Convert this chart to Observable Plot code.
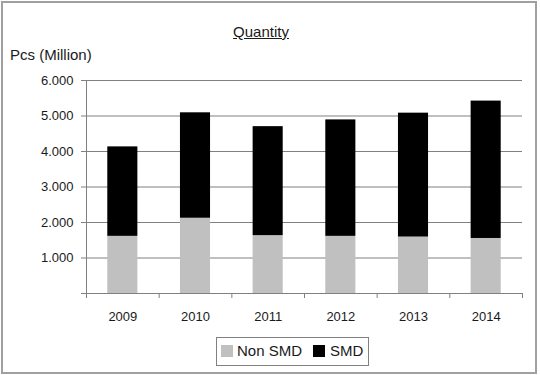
<!DOCTYPE html>
<html><head><meta charset="utf-8">
<script src="https://cdn.jsdelivr.net/npm/d3@7"></script>
<script src="https://cdn.jsdelivr.net/npm/@observablehq/plot@0.6"></script>
<style>
body{margin:0;width:540px;height:375px;position:relative;overflow:hidden;background:#fff;font-family:"Liberation Sans",Arial,sans-serif;color:#1a1a1a}
#frame{position:absolute;left:1px;top:1px;width:532px;height:369px;border:2px solid #a0a0a0}
#chart{position:absolute;left:0;top:0}
.t{position:absolute;font-size:15px;line-height:15px;white-space:nowrap}
#title{left:0;width:522px;text-align:center;top:24px;text-decoration:underline}
#ylab{left:10px;top:47px}
#legend{position:absolute;left:216px;top:337px;width:151px;height:27px;border:1px solid #808080}
.sw{position:absolute;width:12px;height:12px}
</style></head>
<body>
<div id="frame"></div>
<div id="chart"></div>
<div class="t" id="title">Quantity</div>
<div class="t" id="ylab">Pcs (Million)</div>
<div id="legend"></div>
<div class="sw" style="left:221px;top:345px;background:#c0c0c0"></div>
<div class="t" style="left:237px;top:343px">Non SMD</div>
<div class="sw" style="left:313px;top:345px;background:#000"></div>
<div class="t" style="left:330px;top:343px">SMD</div>
<script>
const years = [2009, 2010, 2011, 2012, 2013, 2014];
const nonSmd = [1610, 2120, 1630, 1610, 1590, 1550];
const smd = [2520, 2970, 3070, 3280, 3490, 3870];
const yTicks = [0, 1000, 2000, 3000, 4000, 5000, 6000];
const seriesNames = ["Non SMD", "SMD"];
const seriesColors = ["#c0c0c0", "#000000"];

const halfWidth = 0.207;
const rows = [];
years.forEach((yr, i) => {
  rows.push({year: yr, series: seriesNames[0], y1: 0, y2: nonSmd[i]});
  rows.push({year: yr, series: seriesNames[1], y1: nonSmd[i], y2: nonSmd[i] + smd[i]});
});
const xDomain = [years[0] - 0.5, years[years.length - 1] + 0.5];
const boundaries = years.map(y => y - 0.5).concat([years[years.length - 1] + 0.5]);
const loc = d3.formatLocale({decimal: ",", thousands: ".", grouping: [3], currency: ["", ""]});
const fmt = loc.format(",.0f");

const chart = Plot.plot({
  width: 540,
  height: 330,
  marginLeft: 86,
  marginRight: 18,
  marginTop: 80,
  marginBottom: 37,
  style: {fontFamily: "'Liberation Sans', Arial, sans-serif", fontSize: "13px", color: "#1a1a1a", background: "transparent"},
  x: {domain: xDomain, axis: null},
  y: {domain: [0, 6000], axis: null},
  color: {domain: seriesNames, range: seriesColors},
  marks: [
    Plot.gridY(yTicks.slice(1), {stroke: "#808080", strokeOpacity: 1, strokeWidth: 1}),
    Plot.rect(rows, {x1: d => d.year - halfWidth, x2: d => d.year + halfWidth, y1: "y1", y2: "y2", fill: "series"}),
    Plot.ruleX([xDomain[0]], {stroke: "#808080", strokeWidth: 1}),
    Plot.ruleY([0], {stroke: "#808080", strokeWidth: 1}),
    Plot.axisY({ticks: yTicks, tickSize: 5, tickPadding: 8, stroke: "#808080", fontSize: 13, tickFormat: d => d === 0 ? "" : fmt(d), label: null}),
    Plot.axisX({ticks: boundaries, tickSize: 5, stroke: "#808080", tickFormat: () => "", label: null}),
    Plot.axisX({ticks: years, tickSize: 0, tickPadding: 18, fontSize: 13, tickFormat: d => String(d), label: null})
  ]
});
document.getElementById("chart").appendChild(chart);
</script>
</body></html>
